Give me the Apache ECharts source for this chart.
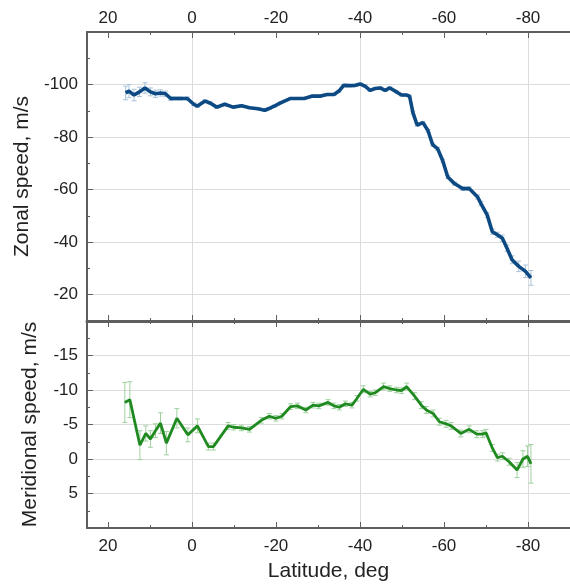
<!DOCTYPE html>
<html>
<head>
<meta charset="utf-8">
<script src="https://cdn.jsdelivr.net/npm/echarts@6/dist/echarts.min.js"></script>
<style>
  html, body { margin: 0; padding: 0; background: #fff; }
  #chart { width: 570px; height: 588px; }
</style>
</head>
<body>
<div id="chart"></div>
<script>
// zonal speed profile (top panel)
const zonalLat = [
  15.8, 15.0, 13.8, 12.5, 11.2, 9.9, 8.7, 7.5, 6.3, 5.1, 3.9, 2.8, 1.1, -0.4, -1.3,
  -3.1, -4.3, -5.9, -7.8, -9.8, -11.8, -13.7, -15.7, -17.3, -18.4, -19.6, -21.2,
  -23.5, -25.1, -26.7, -28.7, -30.6, -32.2, -33.8, -35.0, -36.1, -37.7, -38.9,
  -40.1, -41.2, -42.4, -43.6, -44.8, -46.0, -47.1, -48.7, -49.9, -51.0, -51.8,
  -52.6, -53.6, -55.0, -56.2, -57.3, -58.5, -59.7, -60.9, -62.5, -64.4, -66.0,
  -68.0, -68.8, -70.3, -71.5, -72.7, -73.9, -75.0, -76.2, -77.8, -79.4, -80.7
];
const zonalSpeed = [
  -96.8, -97.5, -96.0, -97.2, -98.7, -97.2, -96.5, -96.8, -96.5, -94.7, -94.7, -94.7, -94.7, -92.5, -91.8,
  -93.7, -93.0, -91.4, -92.5, -91.4, -91.9, -91.2, -90.8, -90.2, -90.9, -91.8, -93.1,
  -94.7, -94.7, -94.7, -95.6, -95.6, -96.2, -96.2, -97.5, -99.7, -99.6, -99.7,
  -100.2, -99.4, -97.8, -98.5, -98.7, -97.8, -98.7, -97.2, -96.0, -96.0, -95.6,
  -89.3, -84.6, -85.5, -82.4, -77.1, -75.5, -71.0, -64.8, -62.3, -60.4, -60.4,
  -57.2, -54.7, -50.3, -44.0, -42.8, -41.5, -37.7, -33.3, -30.8, -28.9, -26.4
];
const zonalErr = [
  2.6, 2.5, 2.2, 1.8, 2.0, 1.5, 1.4, 1.2, 1.0, 0.8, 0.6, 0.6, 0.6, 0.6, 0.5,
  0.5, 0.5, 0.5, 0.4, 0.4, 0.4, 0.4, 0.4, 0.4, 0.4, 0.4, 0.4,
  0.4, 0.4, 0.4, 0.4, 0.4, 0.4, 0.4, 0.4, 0.4, 0.4, 0.4,
  0.4, 0.4, 0.4, 0.4, 0.4, 0.4, 0.4, 0.4, 0.4, 0.4, 0.4,
  0.5, 0.5, 0.5, 0.5, 0.6, 0.6, 0.6, 0.6, 0.6, 0.7, 0.7,
  0.8, 0.8, 0.9, 1.0, 1.0, 1.2, 1.2, 1.5, 2.0, 2.4, 2.8
];

// meridional speed profile (bottom panel)
const meridLat = [
  16.0, 14.8, 12.4, 11.0, 9.9, 8.7, 7.5, 6.1, 3.6, 1.0, -1.3, -3.9, -5.1,
  -8.6, -9.9, -11.8, -13.7, -16.5, -18.4, -20.0, -21.4, -23.5, -25.1, -27.1,
  -28.8, -30.2, -32.4, -33.8, -35.1, -36.5, -38.1, -39.3, -40.8, -42.4, -43.6,
  -45.6, -47.1, -48.7, -49.9, -51.1, -53.0, -54.6, -55.8, -57.4, -58.9, -60.5,
  -61.7, -64.0, -66.0, -67.8, -69.2, -70.0, -71.5, -72.7, -73.9, -75.5, -77.4,
  -78.8, -79.9, -80.7
];
const meridSpeed = [
  -8.2, -8.6, -2.0, -3.7, -2.9, -4.1, -5.2, -2.3, -5.9, -3.5, -4.8, -1.8, -1.8,
  -4.8, -4.6, -4.5, -4.3, -5.6, -6.2, -5.9, -6.2, -7.6, -7.7, -7.1,
  -7.8, -7.7, -8.2, -7.7, -7.5, -8.0, -7.8, -8.8, -10.1, -9.4, -9.6,
  -10.5, -10.2, -10.0, -9.9, -10.5, -9.1, -7.8, -7.1, -6.6, -5.4, -5.1,
  -4.8, -3.7, -4.3, -3.6, -3.6, -3.8, -1.6, -0.2, -0.4, 0.4, 1.6,
  0.0, -0.4, 0.7
];
const meridErr = [
  2.9, 2.6, 2.1, 1.1, 1.2, 1.0, 1.5, 1.7, 1.4, 1.0, 1.0, 0.5, 0.5,
  0.5, 0.4, 0.4, 0.4, 0.4, 0.4, 0.4, 0.4, 0.4, 0.4, 0.4,
  0.4, 0.4, 0.4, 0.4, 0.4, 0.4, 0.4, 0.4, 0.5, 0.4, 0.4,
  0.5, 0.4, 0.4, 0.4, 0.5, 0.5, 0.5, 0.5, 0.5, 0.5, 0.5,
  0.5, 0.5, 0.5, 0.5, 0.5, 0.5, 0.5, 0.5, 0.5, 0.5, 1.1,
  1.2, 1.5, 2.8
];

// tick positions
const latMajorTicks = [20, 0, -20, -40, -60, -80];
const latMinorTicks = [10, -10, -30, -50, -70];
const zonalTicks = [-100, -80, -60, -40, -20];
const zonalMinorTicks = [-110, -90, -70, -50, -30];
const meridTicks = [-15, -10, -5, 0, 5];

const axisColor = '#5e5e5e';
const textColor = '#222';
const gridColor = '#dcdcdc';
const font = 'Liberation Sans, Arial, sans-serif';

const latAxis = (gridIndex, position, ticks, tickLen, lineWidth, extra = {}) => ({
  type: 'value',
  gridIndex,
  position,
  min: -90,
  max: 25,
  interval: 10,
  inverse: true,
  axisLine: {
    show: lineWidth > 0,
    onZero: false,
    lineStyle: { color: axisColor, width: lineWidth || 1 }
  },
  axisTick: {
    show: true,
    inside: true,
    length: tickLen,
    customValues: ticks,
    lineStyle: { color: axisColor, width: 1 }
  },
  axisLabel: { show: false },
  splitLine: { show: false },
  ...extra
});

const latLabels = margin => ({
  show: true,
  customValues: latMajorTicks,
  margin,
  color: textColor,
  fontSize: 17,
  fontFamily: font
});

// every other 10-deg line is hidden, so only multiples of 20 remain
const latSplit = {
  show: true,
  lineStyle: { color: ['rgba(0,0,0,0)', gridColor], width: 1 }
};

const errorBars = (lat, val, err, xAxisIndex, yAxisIndex, color) => ({
  type: 'custom',
  xAxisIndex,
  yAxisIndex,
  z: 1,
  silent: true,
  encode: { x: 0, y: [1, 2] },
  data: lat.map((x, i) => [x, val[i] - err[i], val[i] + err[i]]),
  renderItem: (params, api) => {
    const lo = api.coord([api.value(0), api.value(1)]);
    const hi = api.coord([api.value(0), api.value(2)]);
    const w = 2.5;
    const style = { stroke: color, lineWidth: 1 };
    return {
      type: 'group',
      children: [
        { type: 'line', shape: { x1: lo[0], y1: lo[1], x2: hi[0], y2: hi[1] }, style },
        { type: 'line', shape: { x1: lo[0] - w, y1: lo[1], x2: lo[0] + w, y2: lo[1] }, style },
        { type: 'line', shape: { x1: hi[0] - w, y1: hi[1], x2: hi[0] + w, y2: hi[1] }, style }
      ]
    };
  }
});

const chart = echarts.init(document.getElementById('chart'));

chart.setOption({
  animation: false,
  backgroundColor: '#fff',
  grid: [
    { left: 87, top: 32, width: 486, height: 289 },
    { left: 87, top: 321, width: 486, height: 207 }
  ],
  xAxis: [
    latAxis(0, 'top', latMajorTicks, 6, 2, { axisLabel: latLabels(5), splitLine: latSplit }),
    latAxis(0, 'top', latMinorTicks, 3, 0),
    latAxis(0, 'bottom', latMajorTicks, 6, 3),
    latAxis(0, 'bottom', latMinorTicks, 3, 0),
    latAxis(1, 'bottom', latMajorTicks, 6, 2, {
      axisLabel: latLabels(10),
      splitLine: latSplit,
      name: 'Latitude, deg',
      nameLocation: 'middle',
      nameGap: 33,
      nameTextStyle: { color: textColor, fontSize: 21, fontFamily: font }
    }),
    latAxis(1, 'bottom', latMinorTicks, 3, 0),
    latAxis(1, 'top', latMajorTicks, 6, 0),
    latAxis(1, 'top', latMinorTicks, 3, 0)
  ],
  yAxis: [
    {
      type: 'value',
      gridIndex: 0,
      position: 'left',
      min: -120,
      max: -10,
      interval: 20,
      inverse: true,
      name: 'Zonal speed, m/s',
      nameLocation: 'middle',
      nameGap: 53,
      nameTextStyle: { color: textColor, fontSize: 21, fontFamily: font },
      axisLine: { show: true, onZero: false, lineStyle: { color: axisColor, width: 2 } },
      axisTick: {
        show: true, inside: true, length: 6, customValues: zonalTicks,
        lineStyle: { color: axisColor }
      },
      axisLabel: {
        customValues: zonalTicks, margin: 9, color: textColor,
        fontSize: 17, fontFamily: font
      },
      splitLine: { show: true, lineStyle: { color: gridColor, width: 1 } }
    },
    {
      type: 'value',
      gridIndex: 0,
      position: 'left',
      min: -120,
      max: -10,
      interval: 20,
      inverse: true,
      axisLine: { show: false, onZero: false },
      axisTick: {
        show: true, inside: true, length: 3, customValues: zonalMinorTicks,
        lineStyle: { color: axisColor }
      },
      axisLabel: { show: false },
      splitLine: { show: false }
    },
    {
      type: 'value',
      gridIndex: 1,
      position: 'left',
      min: -20,
      max: 10,
      interval: 5,
      inverse: true,
      name: 'Meridional speed, m/s',
      nameLocation: 'middle',
      nameGap: 46,
      nameTextStyle: { color: textColor, fontSize: 21, fontFamily: font },
      axisLine: { show: true, onZero: false, lineStyle: { color: axisColor, width: 2 } },
      axisTick: { show: true, inside: true, length: 6, lineStyle: { color: axisColor } },
      minorTick: { show: true, splitNumber: 2, length: 3, lineStyle: { color: axisColor } },
      axisLabel: {
        customValues: meridTicks, margin: 9, color: textColor,
        fontSize: 17, fontFamily: font
      },
      splitLine: { show: true, lineStyle: { color: gridColor, width: 1 } }
    }
  ],
  series: [
    errorBars(zonalLat, zonalSpeed, zonalErr, 0, 0, '#a8c3da'),
    {
      type: 'line',
      xAxisIndex: 0,
      yAxisIndex: 0,
      z: 3,
      data: zonalLat.map((x, i) => [x, zonalSpeed[i]]),
      showSymbol: false,
      lineStyle: { color: '#0d4a84', width: 3.6 }
    },
    errorBars(meridLat, meridSpeed, meridErr, 4, 2, '#9fd19f'),
    {
      type: 'line',
      xAxisIndex: 4,
      yAxisIndex: 2,
      z: 3,
      data: meridLat.map((x, i) => [x, meridSpeed[i]]),
      showSymbol: false,
      lineStyle: { color: '#1f8a1f', width: 2.8 }
    }
  ]
});
</script>
</body>
</html>
